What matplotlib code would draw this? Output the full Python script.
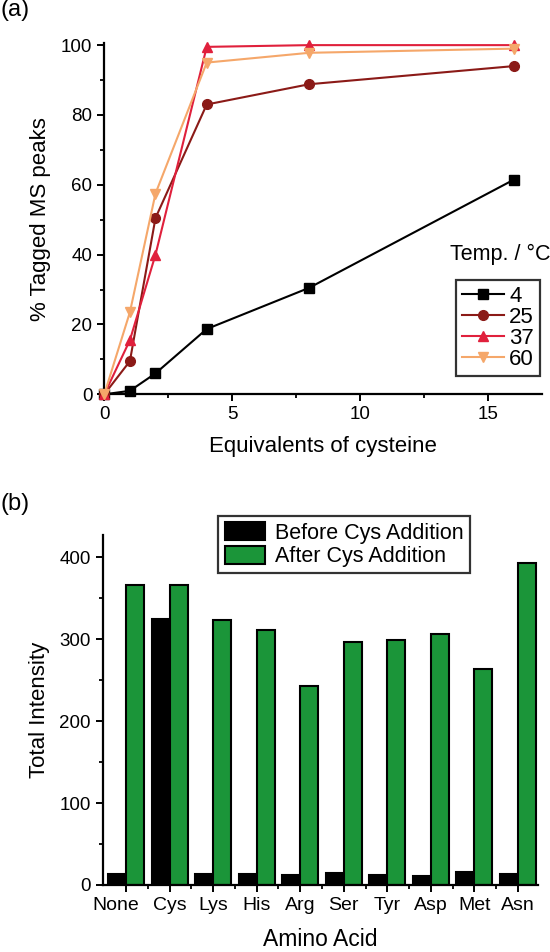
import matplotlib
matplotlib.use("Agg")
import matplotlib.pyplot as plt
import matplotlib.transforms as mtransforms
from matplotlib.ticker import MultipleLocator
import numpy as np

plt.rcParams['font.family'] = ['Liberation Sans', 'DejaVu Sans']

# panel (a)
equiv = [0, 1, 2, 4, 8, 16]
temps = ['4', '25', '37', '60']
tagged_4 = [0, 1.0, 6.0, 18.7, 30.5, 61.5]
tagged_25 = [0, 9.5, 50.5, 83.0, 88.8, 94.0]
tagged_37 = [0, 15.5, 40.0, 99.5, 100.0, 100.0]
tagged_60 = [0, 23.5, 57.5, 95.0, 97.8, 99.0]

# panel (b)
amino = ['None', 'Cys', 'Lys', 'His', 'Arg', 'Ser', 'Tyr', 'Asp', 'Met', 'Asn']
before = [13, 325, 13.5, 13, 12, 15, 12.5, 11.5, 16, 14]
after = [366, 366, 323, 311, 243, 297, 299, 306, 263, 393]

fig = plt.figure(figsize=(5.5, 9.52), dpi=100)
ax1 = fig.add_axes([0.1896, 0.5858, 0.7953, 0.369])
ax2 = fig.add_axes([0.1867, 0.0704, 0.7920, 0.3676])

for ax in (ax1, ax2):
    for s in ('top', 'right'):
        ax.spines[s].set_visible(False)
    for s in ('left', 'bottom'):
        ax.spines[s].set_linewidth(1.6)
    ax.tick_params(which='major', direction='out', length=5, width=1.4, labelsize=13.5)
    ax.tick_params(which='minor', direction='out', length=3, width=1.3)

styles = [
    (tagged_4, 'black', 's'),
    (tagged_25, '#8b1a17', 'o'),
    (tagged_37, '#e0203c', '^'),
    (tagged_60, '#f5a76a', 'v'),
]
for (vals, col, mk), lab in zip(styles, temps):
    ax1.plot(equiv, vals, color=col, marker=mk, markersize=7, lw=1.5,
             label=lab, clip_on=False, zorder=3)

ax1.set_xlim(0, 17.08)
ax1.set_ylim(0, 100.6)
ax1.xaxis.set_major_locator(MultipleLocator(5))
ax1.xaxis.set_minor_locator(MultipleLocator(2.5))
ax1.yaxis.set_major_locator(MultipleLocator(20))
ax1.yaxis.set_minor_locator(MultipleLocator(10))
ax1.set_xlabel('Equivalents of cysteine', fontsize=16, labelpad=9)
ax1.set_ylabel('% Tagged MS peaks', fontsize=16, labelpad=7)

leg1 = ax1.legend(loc='lower right', bbox_to_anchor=(0.9818, 0.605),
                  bbox_transform=fig.transFigure, fontsize=16,
                  frameon=True, fancybox=False, edgecolor='black',
                  handlelength=1.9, handletextpad=0.22, borderpad=0.28,
                  labelspacing=0.0, borderaxespad=0)
leg1.get_frame().set_linewidth(1.6)
ax1.text(0.905, 0.383, 'Temp. / °C', transform=ax1.transAxes, fontsize=15.5,
         ha='center', va='baseline')

fig.text(0.0, 0.989, '(a)', fontsize=17, ha='left', va='center')
fig.text(0.0, 0.4706, '(b)', fontsize=17, ha='left', va='center')

# bar chart
x = np.arange(len(amino))
w = 0.41
ax2.bar(x - w / 2, before, width=w, color='black', edgecolor='black',
        lw=1.5, label='Before Cys Addition')
ax2.bar(x + w / 2, after, width=w, color='#1b9539', edgecolor='black',
        lw=1.5, label='After Cys Addition')
ax2.set_xlim(-0.54, 9.47)
ax2.set_ylim(0, 427)
ax2.set_xticks(x)
ax2.set_xticklabels(amino)
ax2.set_xticks(x[:-1] + 0.5, minor=True)
ax2.yaxis.set_major_locator(MultipleLocator(100))
ax2.yaxis.set_minor_locator(MultipleLocator(50))
ax2.set_xlabel('Amino Acid', fontsize=16.5, labelpad=10)
ax2.set_ylabel('Total Intensity', fontsize=16, labelpad=7)
ax2.tick_params(axis='x', labelsize=14)

shift = mtransforms.ScaledTranslation(-0.1, 0, fig.dpi_scale_trans)
lbl = ax2.get_xticklabels()[0]
lbl.set_transform(lbl.get_transform() + shift)

leg2 = ax2.legend(loc='upper left', bbox_to_anchor=(0.397, 0.4583),
                  bbox_transform=fig.transFigure, fontsize=15.5,
                  frameon=True, fancybox=False, edgecolor='black',
                  handlelength=1.89, handleheight=0.9, handletextpad=0.44,
                  borderpad=0.3, labelspacing=0.1, borderaxespad=0)
leg2.get_frame().set_linewidth(1.6)

fig.savefig('out.png', dpi=100)
